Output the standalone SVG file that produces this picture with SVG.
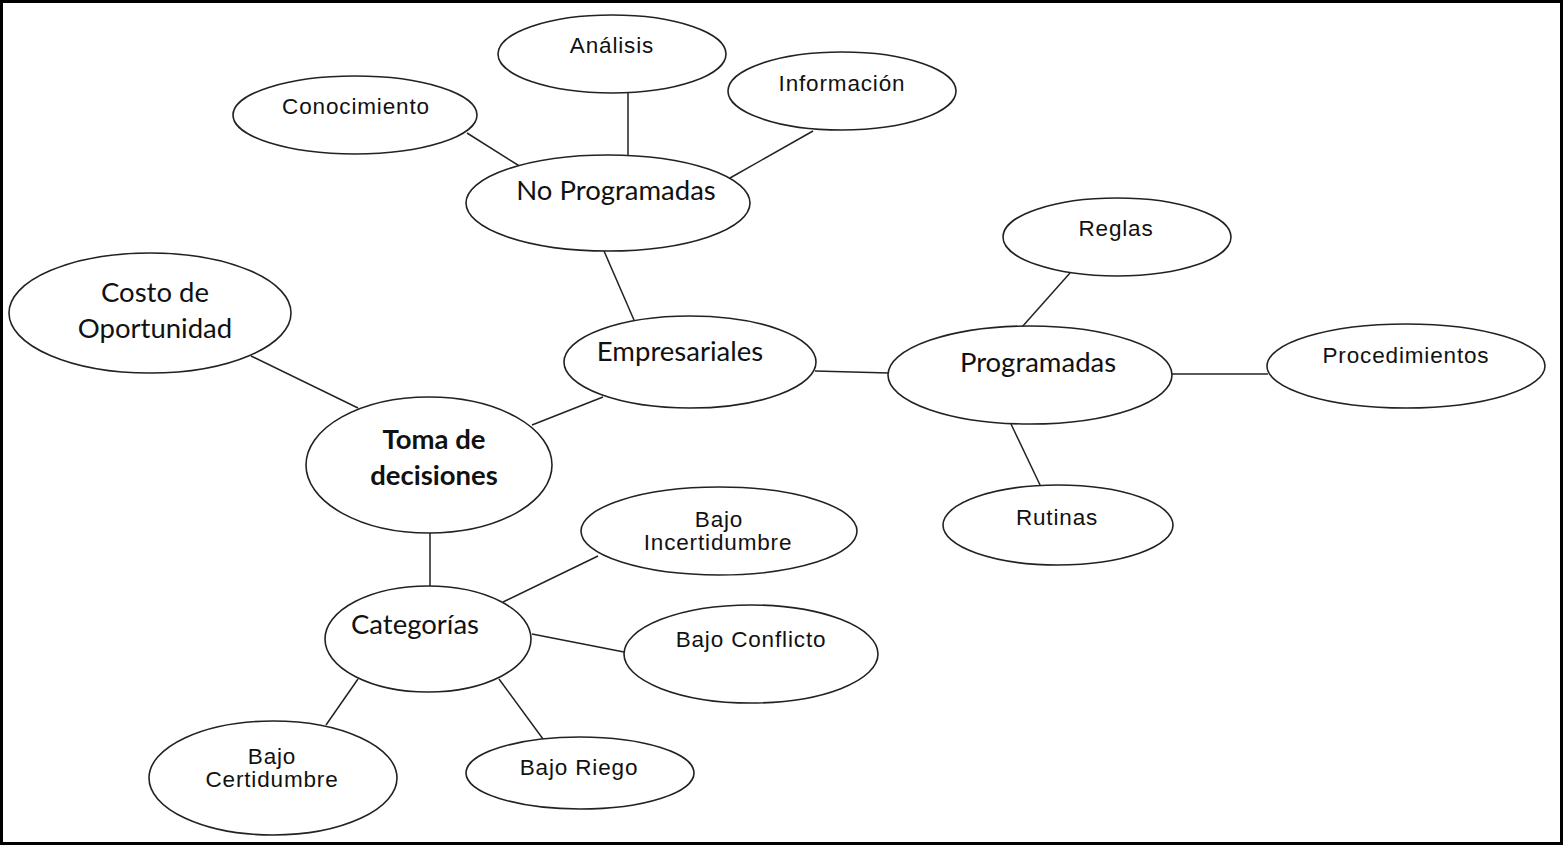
<svg xmlns="http://www.w3.org/2000/svg" width="1563" height="845" viewBox="0 0 1563 845">
  <style>
    .node ellipse { fill: #ffffff; stroke: #222222; stroke-width: 1.6; }
    .links line { stroke: #222222; stroke-width: 1.5; }
    .a { font-family: "Liberation Sans", Arial, sans-serif; font-size: 22.5px; letter-spacing: 0.85px; fill: #111111; text-anchor: middle; }
    .c { font-family: Lato, "Open Sans", sans-serif; font-size: 27.5px; fill: #111111; text-anchor: middle; }
    .b { font-weight: bold; }
  </style>
  <rect x="1.5" y="1.5" width="1560" height="842" fill="#ffffff" stroke="#000000" stroke-width="3"/>

  <g class="links">
    <line x1="467" y1="133" x2="521" y2="167"/>
    <line x1="628" y1="93" x2="628" y2="156"/>
    <line x1="813" y1="131" x2="730" y2="178"/>
    <line x1="604" y1="251" x2="634" y2="320"/>
    <line x1="251" y1="356" x2="358" y2="408"/>
    <line x1="603" y1="397" x2="532" y2="425"/>
    <line x1="815" y1="371" x2="889" y2="373"/>
    <line x1="1070" y1="273" x2="1022" y2="327"/>
    <line x1="1172" y1="374" x2="1268" y2="374"/>
    <line x1="1011" y1="424" x2="1041" y2="487"/>
    <line x1="430" y1="533" x2="430" y2="586"/>
    <line x1="503" y1="602" x2="598" y2="556"/>
    <line x1="532" y1="634" x2="624" y2="652"/>
    <line x1="358" y1="679" x2="326" y2="725"/>
    <line x1="499" y1="679" x2="543" y2="739"/>
  </g>

  <g id="analisis" class="node">
    <ellipse cx="612" cy="54" rx="114" ry="39"/>
    <text class="a" x="612" y="53">Análisis</text>
  </g>
  <g id="conocimiento" class="node">
    <ellipse cx="355" cy="115" rx="122" ry="39"/>
    <text class="a" x="356" y="114">Conocimiento</text>
  </g>
  <g id="informacion" class="node">
    <ellipse cx="842" cy="91" rx="114" ry="39"/>
    <text class="a" x="842" y="91">Información</text>
  </g>
  <g id="no-programadas" class="node">
    <ellipse cx="608" cy="203" rx="142" ry="48"/>
    <text class="c" x="616" y="200">No Programadas</text>
  </g>
  <g id="reglas" class="node">
    <ellipse cx="1117" cy="237" rx="114" ry="39"/>
    <text class="a" x="1116" y="236">Reglas</text>
  </g>
  <g id="costo" class="node">
    <ellipse cx="150" cy="313" rx="141" ry="60"/>
    <text class="c" x="155" y="302">Costo de</text>
    <text class="c" x="155" y="338">Oportunidad</text>
  </g>
  <g id="empresariales" class="node">
    <ellipse cx="690" cy="362" rx="126" ry="46"/>
    <text class="c" x="680" y="361">Empresariales</text>
  </g>
  <g id="programadas" class="node">
    <ellipse cx="1030" cy="375" rx="142" ry="49"/>
    <text class="c" x="1038" y="372">Programadas</text>
  </g>
  <g id="procedimientos" class="node">
    <ellipse cx="1406" cy="366" rx="139" ry="42"/>
    <text class="a" x="1406" y="363">Procedimientos</text>
  </g>
  <g id="toma-de-decisiones" class="node">
    <ellipse cx="429" cy="465" rx="123" ry="68"/>
    <text class="c b" x="434" y="449">Toma de</text>
    <text class="c b" x="434" y="485">decisiones</text>
  </g>
  <g id="rutinas" class="node">
    <ellipse cx="1058" cy="525" rx="115" ry="40"/>
    <text class="a" x="1057" y="525">Rutinas</text>
  </g>
  <g id="bajo-incertidumbre" class="node">
    <ellipse cx="719" cy="531" rx="138" ry="44"/>
    <text class="a" x="719" y="527">Bajo</text>
    <text class="a" x="718" y="550">Incertidumbre</text>
  </g>
  <g id="categorias" class="node">
    <ellipse cx="428" cy="639" rx="103" ry="53"/>
    <text class="c" x="415" y="634">Categorías</text>
  </g>
  <g id="bajo-conflicto" class="node">
    <ellipse cx="751" cy="654" rx="127" ry="49"/>
    <text class="a" x="751" y="647">Bajo Conflicto</text>
  </g>
  <g id="bajo-certidumbre" class="node">
    <ellipse cx="273" cy="778" rx="124" ry="57"/>
    <text class="a" x="272" y="764">Bajo</text>
    <text class="a" x="272" y="787">Certidumbre</text>
  </g>
  <g id="bajo-riego" class="node">
    <ellipse cx="580" cy="773" rx="114" ry="36"/>
    <text class="a" x="579" y="775">Bajo Riego</text>
  </g>
</svg>
